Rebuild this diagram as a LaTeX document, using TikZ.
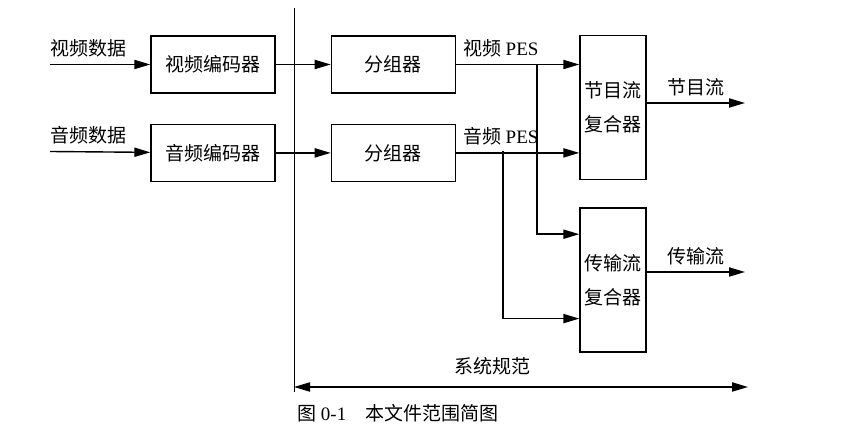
\documentclass[tikz,border=0pt]{standalone}
\usepackage{fontspec}
\setmainfont{Liberation Serif}
\newfontfamily\cjk{Noto Sans CJK SC}
\usetikzlibrary{arrows.meta,positioning,calc}

\begin{document}
\begin{tikzpicture}[
            x = 0.5pt, y = -0.5pt, % one unit per pixel, y going down
            > = {Triangle[length=8pt,width=4.6pt]}, % arrow head style
            line width = 0.7pt, % line style
            node distance = 15pt, % distance between nodes
            font = \fontsize{9.5pt}{17pt}\selectfont\cjk
        ]

        \tikzstyle{box}=[
            draw = black,
            rectangle,
            align = center,
            inner sep = 2pt
        ]
        \tikzstyle{codec}=[box, minimum width = 62pt, minimum height = 28.5pt]
        \tikzstyle{mux}=[box, minimum width = 33pt, minimum height = 72pt]

        \useasboundingbox (0,0) rectangle (841,432);

        \node[codec] (venc) at (213,64.5) {视频编码器};
        \node[codec] (aenc) [below=of venc] {音频编码器};
        \node[codec] (vgrp) [right=27.5pt of venc] {分组器};
        \node[codec] (agrp) [right=27.5pt of aenc] {分组器};
        \node[mux] (pmux) at (613,107.5) {节目流\\复合器};
        \node[mux] (tmux) [below=13.5pt of pmux] {传输流\\复合器};

        \coordinate (vsrc) at (50,64.5);
        \coordinate (asrc) at (50,151.5);
        \coordinate (vtap) at (537,64.5);
        \coordinate (atap) at (503,151.5);
        \coordinate (pout) at (745,103);
        \coordinate (tout) at (745,272);

        \draw[->] (vsrc) -- (venc) node[pos=0, above right, inner xsep=0pt] {视频数据};
        \draw[->] (asrc) -- (aenc) node[pos=0, above right, inner xsep=0pt] {音频数据};

        \draw[->] (venc) -- (vgrp);
        \draw[->] (aenc) -- (agrp);

        \draw[->] (vgrp) -- (vgrp -| pmux.west)
            node[pos=0, above right] {视频 {\rmfamily PES}};
        \draw[->] (agrp) -- (agrp -| pmux.west)
            node[pos=0, above right] {音频 {\rmfamily PES}};

        \draw[->] (vtap) |- ($(tmux.north west)+(0,27)$);
        \draw[->] (atap) |- ($(tmux.south west)+(0,-34)$);

        \draw[->] (pout -| pmux.east) -- (pout) node[midway, above] {节目流};
        \draw[->] (tout -| tmux.east) -- (tout) node[midway, above] {传输流};

        % system boundary
        \coordinate (systop) at (294,8);
        \coordinate (sysbot) at (294,392);
        \coordinate (specl) at (294,387);
        \coordinate (specr) at (748,387);
        \draw[thin] (systop) -- (sysbot);
        \draw[<->] (specl) -- (specr);
        \node (spec) at (492,366) {系统规范};

        \node (cap) at (398,413) {图 {\rmfamily 0-1}\quad 本文件范围简图};

    \end{tikzpicture}
\end{document}
